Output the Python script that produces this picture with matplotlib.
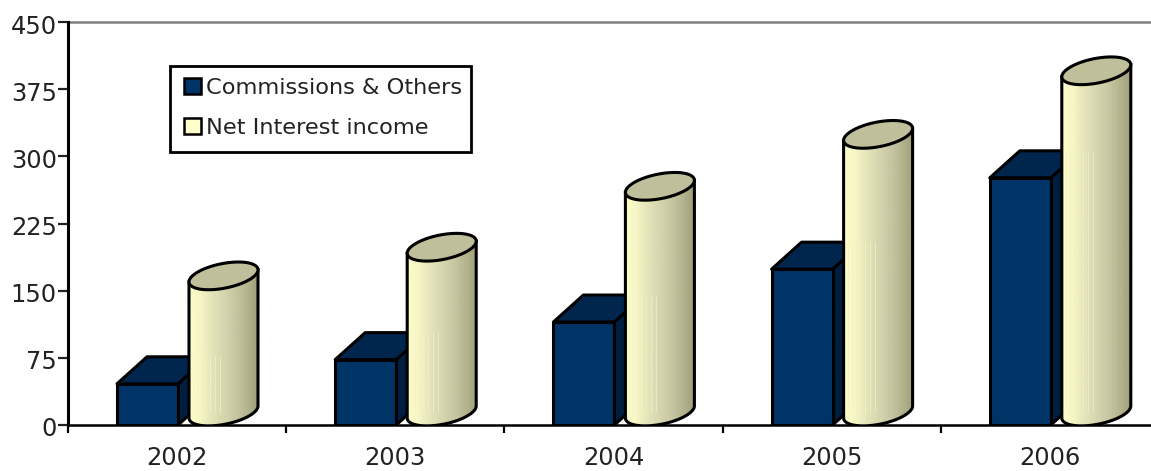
import numpy as np
import matplotlib
matplotlib.use('Agg')
import matplotlib.pyplot as plt
from matplotlib.patches import Polygon, Patch, Rectangle
from matplotlib.colors import LinearSegmentedColormap
from matplotlib.transforms import ScaledTranslation

years = ['2002', '2003', '2004', '2005', '2006']
commissions = [46, 73, 115, 174, 276]
net_interest = [152, 184, 252, 310, 381]
y_ticks = [0, 75, 150, 225, 300, 375, 450]

W, H = 1151, 471
PX_X = 1 / 218.2       # one pixel in x data units
PX_Y = 450 / 403       # one pixel in y data units

plt.rcParams['font.family'] = 'DejaVu Sans'
fig = plt.figure(figsize=(W / 100, H / 100), dpi=100)
ax = fig.add_axes([68 / W, 1 - 425 / H, (1150 - 68) / W, 403 / H])

cyl_cmap = LinearSegmentedColormap.from_list(
    'cyl', ['#fdfdca', '#f6f6c6', '#e8e8bc', '#dcdcb4', '#d0d0aa', '#c4c4a0', '#b4b48e', '#a2a27e'], N=22)
gradient = np.linspace(0, 1, 256).reshape(1, -1)

for i, (c, n) in enumerate(zip(commissions, net_interest)):
    z = 3 + i
    # box
    x0 = i + 49 * PX_X
    x1 = i + 110 * PX_X
    dx = 30 * PX_X
    dy = 27 * PX_Y
    kw = dict(edgecolor='black', lw=2.2, joinstyle='round', zorder=z)
    ax.add_patch(Polygon([(x1, 0), (x1 + dx, dy), (x1 + dx, c + dy), (x1, c)],
                         facecolor='#001f40', **kw))
    ax.add_patch(Polygon([(x0, c), (x1, c), (x1 + dx, c + dy), (x0 + dx, c + dy)],
                         facecolor='#00264d', **kw))
    ax.add_patch(Polygon([(x0, 0), (x1, 0), (x1, c), (x0, c)],
                         facecolor='#003366', **kw))

    # cylinder, sheared ellipse at each end
    cx = i + 155.5 * PX_X
    ax_half = 34.5 * PX_X
    rise = 6 * PX_Y
    minor = 12.5 * PX_Y
    base = 7 * PX_Y + rise
    t = np.linspace(0, 2 * np.pi, 120)
    ex = cx + ax_half * np.cos(t)
    ey = rise * np.cos(t) + minor * np.sin(t)

    low = t[(t >= np.pi)]
    bx = cx + ax_half * np.cos(low)
    by = base + rise * np.cos(low) + minor * np.sin(low)
    top_y = base + n
    body = np.vstack([np.column_stack([bx, by]),
                      [[cx + ax_half, top_y + rise]],
                      [[cx - ax_half, top_y - rise]]])
    clip = Polygon(body, closed=True, transform=ax.transData, facecolor='none',
                   edgecolor='black', lw=2.2, zorder=z + 0.3)
    im = ax.imshow(gradient, cmap=cyl_cmap, aspect='auto', zorder=z + 0.1,
                   extent=(cx - ax_half, cx + ax_half, 0, 450))
    im.set_clip_path(clip)
    ax.add_patch(clip)

    # faint strips where the box sits behind the cylinder
    for off in [4, 8, 12, 16, 21, 26, 31]:
        ax.plot([cx - ax_half + off * PX_X] * 2, [base, c + dy], color='#f2f2c8',
                lw=0.6, alpha=0.8, zorder=z + 0.2)

    ax.add_patch(Polygon(np.column_stack([ex, top_y + ey]), closed=True,
                         facecolor='#bfbf9b', edgecolor='black', lw=2.2, zorder=z + 0.4))

ax.spines['right'].set_visible(False)
ax.spines['left'].set_linewidth(2.2)
ax.spines['bottom'].set_linewidth(1.8)
ax.spines['top'].set_color('#808080')
ax.spines['top'].set_linewidth(1.8)
ax.spines['left'].set_zorder(20)

ax.set_yticks(y_ticks)
ax.tick_params(axis='y', length=7, width=1.6, labelsize=17.4, pad=1, colors='#222222')
ax.set_xticks(range(6))
ax.set_xticklabels([])
ax.set_xticks(np.arange(5) + 0.5, minor=True)
ax.set_xticklabels(years, minor=True)
ax.tick_params(axis='x', which='major', length=6, width=1.6)
ax.tick_params(axis='x', which='minor', length=0, labelsize=17.4, pad=15, labelcolor='#222222')

# y labels sit a little under their ticks
shift = ScaledTranslation(0, -2 / 100, fig.dpi_scale_trans)
for lab in ax.get_yticklabels():
    lab.set_transform(lab.get_transform() + shift)

ax.set_xlim(0, (1150 - 68) * PX_X)
ax.set_ylim(0, 450)

fig.add_artist(Rectangle((170 / W, 1 - 152 / H), 301 / W, 86 / H, transform=fig.transFigure,
                         facecolor='white', edgecolor='black', lw=2, zorder=29))
handles = [Patch(facecolor='#003366', edgecolor='black', lw=1.8, label='Commissions & Others'),
           Patch(facecolor='#ffffcc', edgecolor='black', lw=1.8, label='Net Interest income')]
leg = fig.legend(handles=handles, loc='upper left', bbox_to_anchor=(184 / W, 1 - 78 / H),
                 borderaxespad=0, borderpad=0, fontsize=16.2, frameon=False,
                 handlelength=0.75, handleheight=0.75, handletextpad=0.22, labelspacing=0.87,
                 labelcolor='#222222')
leg.set_zorder(30)

fig.savefig('out.png', dpi=100)
